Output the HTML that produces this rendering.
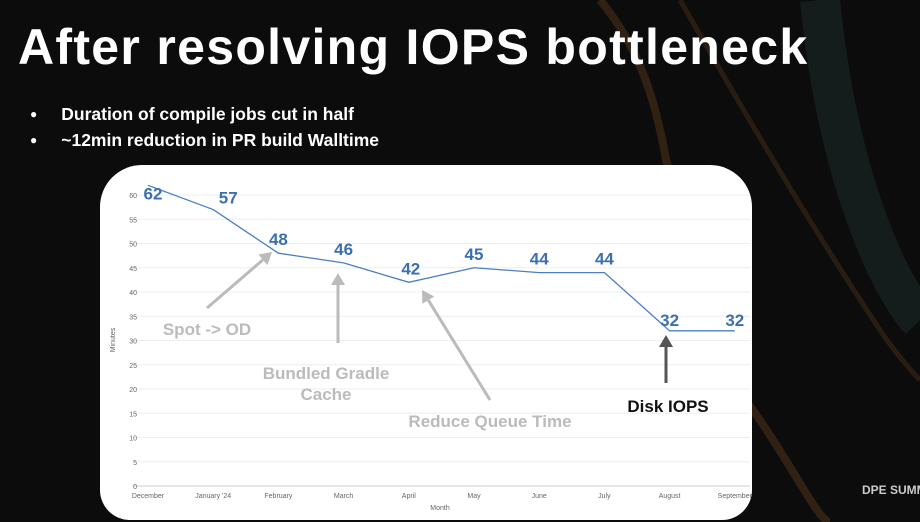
<!DOCTYPE html>
<html><head><meta charset="utf-8">
<style>
body{margin:0;width:920px;height:522px;overflow:hidden;background:#0c0c0c;font-family:"Liberation Sans",sans-serif;position:relative}
#bg{position:absolute;left:0;top:0}
h1{position:absolute;left:18px;top:18px;margin:0;color:#fff;font-size:50px;font-weight:bold;letter-spacing:1.3px;white-space:nowrap}
ul{position:absolute;left:30px;top:104px;margin:0;padding:0;list-style:none;color:#fff;font-size:17.5px;font-weight:bold}
li{height:26px;white-space:nowrap}
li:before{content:"●";font-size:12px;margin-right:24px;position:relative;top:-2px}
#card{position:absolute;left:100px;top:165px;width:652px;height:355px;background:#fff;border-radius:42px 42px 30px 30px}
#chart{position:absolute;left:0;top:0}
#logo{position:absolute;left:862px;top:483px;color:#ccc;font-size:12px;font-weight:bold;white-space:nowrap}
</style></head><body>
<svg id="bg" width="920" height="522">
<path d="M600 0 C700 120 640 260 760 420 C800 480 820 522 830 522" stroke="#4a3018" stroke-width="8" fill="none" opacity="0.6"/>
<path d="M680 0 C760 140 820 240 880 330 C900 360 920 380 920 380" stroke="#3e2814" stroke-width="5" fill="none" opacity="0.6"/>
<path d="M820 0 C840 200 900 300 920 320" stroke="#1c2c2c" stroke-width="40" fill="none" opacity="0.5"/>
</svg>
<h1>After resolving IOPS bottleneck</h1>
<ul>
<li>Duration of compile jobs cut in half</li>
<li>~12min reduction in PR build Walltime</li>
</ul>
<div id="card">
<svg id="chart" width="652" height="355"></svg>
</div>
<div id="logo">DPE SUMM</div>
<script>
const months=["December","January '24","February","March","April","May","June","July","August","September"];
const values=[62,57,48,46,42,45,44,44,32,32];
const yTicks=[0,5,10,15,20,25,30,35,40,45,50,55,60];
const NS="http://www.w3.org/2000/svg";
const svg=document.getElementById('chart');
const x0=48,dx=65.2,yBase=321,ppu=4.85;
const X=i=>x0+i*dx;
const Y=v=>yBase-v*ppu;
function el(t,a,p){const e=document.createElementNS(NS,t);for(const k in a)e.setAttribute(k,a[k]);(p||svg).appendChild(e);return e;}
yTicks.forEach(t=>{
 const g=el('line',{x1:33,x2:650,y1:Y(t),y2:Y(t),stroke:t===0?'#ccc':'#eee','stroke-width':1});
 
 
 const l=el('text',{x:37,y:Y(t)+3,'font-size':7,fill:'#666','text-anchor':'end'});l.textContent=t;
 
 
});
months.forEach((m,i)=>{
 const l=el('text',{x:X(i),y:333,'font-size':7,fill:'#666','text-anchor':'middle'});l.textContent=m;
 
 
});
let t=el('text',{x:340,y:345,'font-size':7,fill:'#666','text-anchor':'middle'});t.textContent='Month';


t=el('text',{x:15,y:175,'font-size':7,fill:'#666','text-anchor':'middle',transform:'rotate(-90 15 175)'});t.textContent='Minutes';


const line=el('polyline',{points:values.map((v,i)=>X(i)+','+Y(v)).join(' '),fill:'none',stroke:'#4a7fc0','stroke-width':1.3});


const offs=[[5,14],[15,-6],[0,-8],[0,-8],[2,-8],[0,-8],[0,-8],[0,-8],[0,-5],[0,-5]];
values.forEach((v,i)=>{
 const l=el('text',{x:X(i)+offs[i][0],y:Y(v)+offs[i][1],'font-size':17,'font-weight':'bold',fill:'#3c6fb0','text-anchor':'middle'});l.textContent=v;
 
 
});
function arrow(x1,y1,x2,y2,c,name){
 const ang=Math.atan2(y2-y1,x2-x1),h=12,w=7;
 const bx=x2-h*Math.cos(ang),by=y2-h*Math.sin(ang);
 const g=el('g',{});
 
 
 el('line',{x1,y1,x2:bx,y2:by,stroke:c,'stroke-width':3},g);
 el('polygon',{points:`${x2},${y2} ${bx+w*Math.sin(ang)},${by-w*Math.cos(ang)} ${bx-w*Math.sin(ang)},${by+w*Math.cos(ang)}`,fill:c},g);
}
arrow(107,143,172,87,'#bbb','arrow-spot-od');
arrow(238,178,238,108,'#bbb','arrow-gradle-cache');
arrow(390,235,322,125,'#bbb','arrow-queue-time');
arrow(566,218,566,170,'#555','arrow-disk-iops');
function lab(x,y,s,c,name){const l=el('text',{x,y,'font-size':17,'font-weight':'bold',fill:c,'text-anchor':'middle'});l.textContent=s;
 
 }
lab(107,170,'Spot -> OD','#bbb','annotation-spot-od');
lab(226,214,'Bundled Gradle','#bbb','annotation-gradle-1');
lab(226,235,'Cache','#bbb','annotation-gradle-2');
lab(390,262,'Reduce Queue Time','#bbb','annotation-queue-time');
lab(568,247,'Disk IOPS','#111','annotation-disk-iops');
</script>
</body></html>
